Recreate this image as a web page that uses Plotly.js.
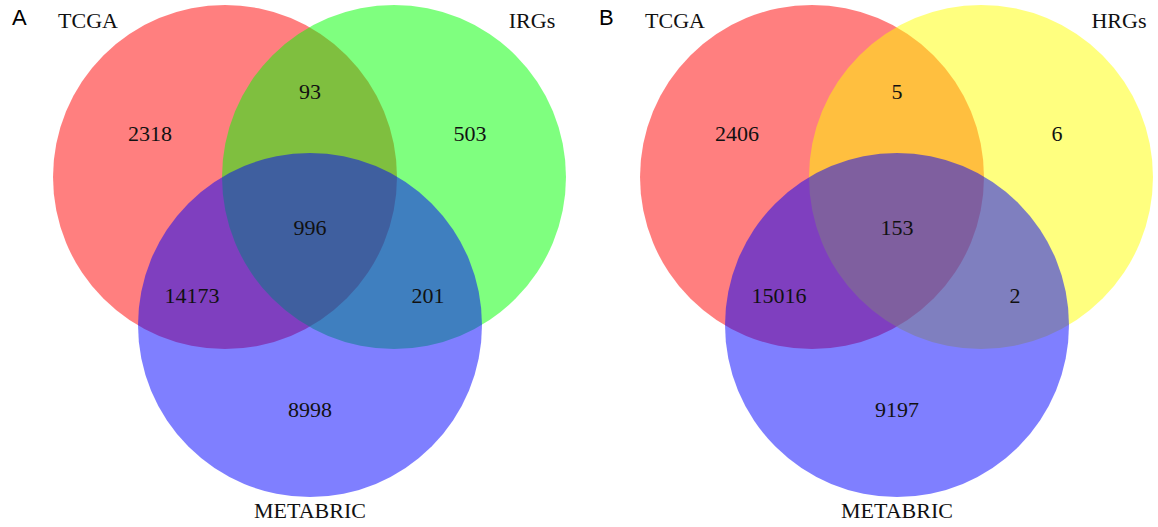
<!DOCTYPE html>
<html>
<head>
<meta charset="utf-8">
<script src="https://cdn.plot.ly/plotly-3.0.1.min.js"></script>
<style>
  html, body { margin: 0; padding: 0; background: #ffffff; }
  #chart { width: 1158px; height: 527px; }
</style>
</head>
<body>
<div id="chart"></div>
<script>
// Set names for the two three-way Venn diagrams
const panelLetters = ["A", "B"];
const setNamesA = ["TCGA", "IRGs", "METABRIC"];
const setNamesB = ["TCGA", "HRGs", "METABRIC"];

// Region order: only1, only2, only3, 1&2, 1&3, 2&3, 1&2&3
const regionKeys = ["1", "2", "3", "12", "13", "23", "123"];
const countsA = [2318, 503, 8998, 93, 14173, 201, 996];
const countsB = [2406, 6, 9197, 5, 15016, 2, 153];

// Circle fills (50% alpha over white)
const fillsA = ["rgba(255,0,0,0.5)", "rgba(0,255,0,0.5)", "rgba(0,0,255,0.5)"];
const fillsB = ["rgba(255,0,0,0.5)", "rgba(255,255,0,0.5)", "rgba(0,0,255,0.5)"];

// Geometry, in pixel units of the canvas
const W = 1158, H = 527;
const R = 172;
const panelOffsets = [0, 587];
const circleCenters = [[225, 177], [394, 177], [310, 325]];
const regionOffsets = {
  "1":   [150, 135],
  "2":   [470, 135],
  "3":   [310, 411],
  "12":  [310, 93],
  "13":  [192, 297],
  "23":  [428, 297],
  "123": [310, 229]
};
const setLabelPos = [[88, 22], [532, 22], [310, 512]];

const serif = "Liberation Serif, Times New Roman, serif";
const panels = [
  { names: setNamesA, counts: countsA, fills: fillsA },
  { names: setNamesB, counts: countsB, fills: fillsB }
];

const shapes = [];
const traces = [];
const annotations = [];

panels.forEach((p, i) => {
  const dx = panelOffsets[i];
  circleCenters.forEach((c, k) => {
    shapes.push({
      type: "circle", xref: "x", yref: "y", layer: "below",
      x0: c[0] + dx - R, x1: c[0] + dx + R,
      y0: c[1] - R, y1: c[1] + R,
      fillcolor: p.fills[k], line: { width: 0 }
    });
  });
  traces.push({
    type: "scatter", mode: "text", hoverinfo: "skip", showlegend: false,
    x: regionKeys.map(k => regionOffsets[k][0] + dx),
    y: regionKeys.map(k => regionOffsets[k][1]),
    text: p.counts.map(String),
    textposition: "middle center",
    textfont: { family: serif, size: 22, color: "#111111" }
  });
  traces.push({
    type: "scatter", mode: "text", hoverinfo: "skip", showlegend: false,
    x: setLabelPos.map(q => q[0] + dx),
    y: setLabelPos.map(q => q[1]),
    text: p.names,
    textposition: "middle center",
    textfont: { family: serif, size: 22, color: "#111111" }
  });
  annotations.push({
    xref: "x", yref: "y", x: 19 + dx, y: 17, text: panelLetters[i],
    showarrow: false, xanchor: "center", yanchor: "middle",
    font: { family: "Liberation Sans, Arial, sans-serif", size: 22, color: "#000000" }
  });
});

const layout = {
  width: W, height: H, autosize: false,
  margin: { l: 0, r: 0, t: 0, b: 0, pad: 0 },
  paper_bgcolor: "#ffffff", plot_bgcolor: "#ffffff",
  xaxis: { range: [0, W], visible: false, fixedrange: true },
  yaxis: { range: [H, 0], visible: false, fixedrange: true },
  shapes: shapes,
  annotations: annotations,
  showlegend: false
};

Plotly.newPlot("chart", traces, layout, { staticPlot: true, displayModeBar: false });
</script>
</body>
</html>
